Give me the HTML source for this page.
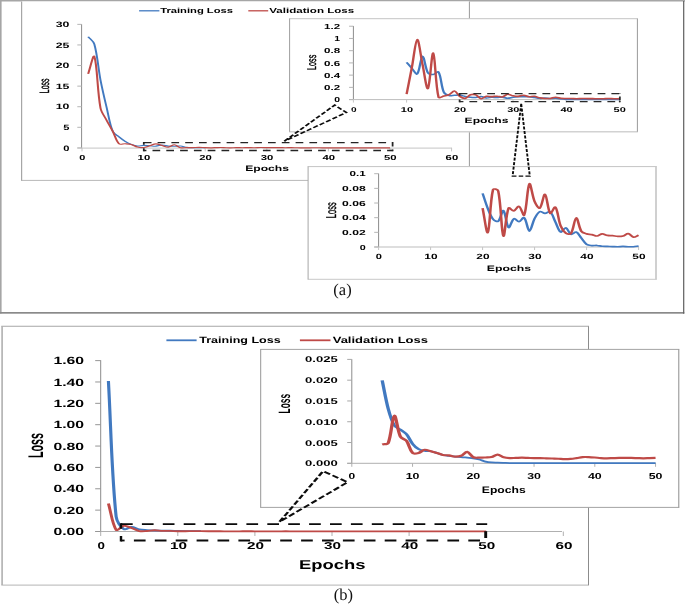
<!DOCTYPE html>
<html><head><meta charset="utf-8"><title>Loss curves</title>
<style>html,body{margin:0;padding:0;background:#fff}svg{display:block}</style></head>
<body>
<svg width="685" height="605" viewBox="0 0 685 605" font-family="'Liberation Sans', sans-serif" shape-rendering="auto" text-rendering="geometricPrecision">
<rect x="0" y="0" width="685" height="605" fill="#fff"/>
<rect x="0" y="0" width="685" height="1.5" fill="#a6a6a6"/>
<rect x="0" y="0" width="1.6" height="313.5" fill="#a6a6a6"/>
<rect x="0" y="312" width="684.3" height="1.7" fill="#8a8a8a"/>
<rect x="683.1" y="1" width="1.2" height="312.7" fill="#5f5f5f"/>
<rect x="21.60" y="1.50" width="447.80" height="178.90" fill="#fff"/>
<line x1="21.00" y1="180.40" x2="469.90" y2="180.40" stroke="#b8b8b8" stroke-width="1"/>
<line x1="21.60" y1="1.50" x2="21.60" y2="180.40" stroke="#a6a6a6" stroke-width="1.2"/>
<line x1="469.40" y1="1.50" x2="469.40" y2="180.40" stroke="#9a9a9a" stroke-width="1"/>
<line x1="81.60" y1="24.20" x2="81.60" y2="148.40" stroke="#8c8c8c" stroke-width="1" />
<line x1="77.30" y1="148.10" x2="452.00" y2="148.10" stroke="#c4c4c4" stroke-width="1" />
<line x1="77.30" y1="147.90" x2="81.60" y2="147.90" stroke="#b5b5b5" stroke-width="1" />
<line x1="77.30" y1="127.31" x2="81.60" y2="127.31" stroke="#b5b5b5" stroke-width="1" />
<line x1="77.30" y1="106.72" x2="81.60" y2="106.72" stroke="#b5b5b5" stroke-width="1" />
<line x1="77.30" y1="86.13" x2="81.60" y2="86.13" stroke="#b5b5b5" stroke-width="1" />
<line x1="77.30" y1="65.54" x2="81.60" y2="65.54" stroke="#b5b5b5" stroke-width="1" />
<line x1="77.30" y1="44.95" x2="81.60" y2="44.95" stroke="#b5b5b5" stroke-width="1" />
<line x1="77.30" y1="24.36" x2="81.60" y2="24.36" stroke="#b5b5b5" stroke-width="1" />
<line x1="82.00" y1="147.90" x2="82.00" y2="151.40" stroke="#c4c4c4" stroke-width="1" />
<line x1="143.60" y1="147.90" x2="143.60" y2="151.40" stroke="#c4c4c4" stroke-width="1" />
<line x1="205.20" y1="147.90" x2="205.20" y2="151.40" stroke="#c4c4c4" stroke-width="1" />
<line x1="266.80" y1="147.90" x2="266.80" y2="151.40" stroke="#c4c4c4" stroke-width="1" />
<line x1="328.40" y1="147.90" x2="328.40" y2="151.40" stroke="#c4c4c4" stroke-width="1" />
<line x1="390.00" y1="147.90" x2="390.00" y2="151.40" stroke="#c4c4c4" stroke-width="1" />
<line x1="451.60" y1="147.90" x2="451.60" y2="151.40" stroke="#c4c4c4" stroke-width="1" />
<text x="63.20" y="150.50" font-size="7.82" font-weight="bold" textLength="6.20" lengthAdjust="spacingAndGlyphs" fill="#000">0</text>
<text x="63.20" y="129.91" font-size="7.82" font-weight="bold" textLength="6.20" lengthAdjust="spacingAndGlyphs" fill="#000">5</text>
<text x="55.70" y="109.32" font-size="7.82" font-weight="bold" textLength="13.70" lengthAdjust="spacingAndGlyphs" fill="#000">10</text>
<text x="55.70" y="88.73" font-size="7.82" font-weight="bold" textLength="13.70" lengthAdjust="spacingAndGlyphs" fill="#000">15</text>
<text x="55.70" y="68.14" font-size="7.82" font-weight="bold" textLength="13.70" lengthAdjust="spacingAndGlyphs" fill="#000">20</text>
<text x="55.70" y="47.55" font-size="7.82" font-weight="bold" textLength="13.70" lengthAdjust="spacingAndGlyphs" fill="#000">25</text>
<text x="55.70" y="26.96" font-size="7.82" font-weight="bold" textLength="13.70" lengthAdjust="spacingAndGlyphs" fill="#000">30</text>
<text x="79.25" y="160.00" font-size="7.26" font-weight="bold" textLength="6.10" lengthAdjust="spacingAndGlyphs" fill="#000">0</text>
<text x="137.60" y="160.00" font-size="7.26" font-weight="bold" textLength="12.60" lengthAdjust="spacingAndGlyphs" fill="#000">10</text>
<text x="199.20" y="160.00" font-size="7.26" font-weight="bold" textLength="12.60" lengthAdjust="spacingAndGlyphs" fill="#000">20</text>
<text x="260.80" y="160.00" font-size="7.26" font-weight="bold" textLength="12.60" lengthAdjust="spacingAndGlyphs" fill="#000">30</text>
<text x="322.40" y="160.00" font-size="7.26" font-weight="bold" textLength="12.60" lengthAdjust="spacingAndGlyphs" fill="#000">40</text>
<text x="384.00" y="160.00" font-size="7.26" font-weight="bold" textLength="12.60" lengthAdjust="spacingAndGlyphs" fill="#000">50</text>
<text x="445.60" y="160.00" font-size="7.26" font-weight="bold" textLength="12.60" lengthAdjust="spacingAndGlyphs" fill="#000">60</text>
<text x="245.20" y="171.40" font-size="7.96" font-weight="bold" textLength="43.80" lengthAdjust="spacingAndGlyphs" fill="#000">Epochs</text>
<text transform="translate(48.80,93.20) rotate(-90)" font-size="13.55" font-weight="normal" textLength="14.60" lengthAdjust="spacingAndGlyphs" stroke="#000" stroke-width="0.4">Loss</text>
<line x1="139.10" y1="10.80" x2="159.40" y2="10.80" stroke="#4179c0" stroke-width="1.3" />
<text x="160.20" y="13.30" font-size="7.40" font-weight="bold" textLength="72.80" lengthAdjust="spacingAndGlyphs" fill="#000">Training Loss</text>
<line x1="248.30" y1="10.80" x2="268.20" y2="10.80" stroke="#bf4a47" stroke-width="1.3" />
<text x="269.30" y="13.30" font-size="7.40" font-weight="bold" textLength="84.90" lengthAdjust="spacingAndGlyphs" fill="#000">Validation Loss</text>
<path transform="scale(1.8,1)" d="M48.978,36.71 C50.117,39.18 51.922,41.11 52.400,44.13 C54.206,55.52 54.539,68.06 55.822,79.95 C56.822,89.20 58.028,98.38 59.244,107.54 C60.306,115.54 60.950,124.11 62.667,131.43 C63.233,133.85 64.911,135.08 66.089,136.78 C67.194,138.37 68.311,139.98 69.511,141.31 C70.594,142.51 71.750,143.58 72.933,144.40 C74.028,145.16 75.200,145.88 76.356,146.05 C77.478,146.21 78.633,145.43 79.778,145.39 C80.917,145.35 82.061,145.67 83.200,145.80 C84.339,145.93 85.489,146.31 86.622,146.17 C87.772,146.03 88.900,144.99 90.044,144.98 C91.183,144.96 92.317,145.88 93.467,146.09 C94.600,146.29 95.750,146.22 96.889,146.21 C98.028,146.20 99.183,145.85 100.311,146.05 C101.467,146.25 102.578,147.14 103.733,147.41 C104.861,147.67 106.017,147.60 107.156,147.63 C108.294,147.67 109.439,147.62 110.578,147.61 C111.717,147.61 112.861,147.60 114.000,147.60" fill="none" stroke="#4179c0" stroke-width="1.1" stroke-linejoin="round" stroke-linecap="butt"/>
<path transform="scale(1.8,1)" d="M48.978,73.78 C50.117,68.01 51.806,53.50 52.400,56.48 C54.083,64.89 54.022,91.15 55.822,107.96 C56.300,112.43 58.056,116.24 59.244,120.31 C60.339,124.06 61.572,127.68 62.667,131.43 C63.856,135.50 64.511,140.93 66.089,143.78 C66.794,145.05 68.372,143.68 69.511,143.78 C70.656,143.89 71.839,143.87 72.933,144.40 C74.122,144.97 75.167,146.53 76.356,147.08 C77.450,147.58 78.661,147.76 79.778,147.54 C80.939,147.31 82.061,146.33 83.200,145.72 C84.339,145.10 85.478,143.89 86.622,143.86 C87.761,143.84 88.900,145.00 90.044,145.55 C91.183,146.10 92.344,147.29 93.467,147.16 C94.628,147.03 95.767,144.68 96.889,144.77 C98.050,144.87 99.111,147.23 100.311,147.74 C101.394,148.19 102.594,147.69 103.733,147.67 C104.872,147.64 106.017,147.63 107.156,147.57 C108.294,147.51 109.439,147.31 110.578,147.32 C111.717,147.34 112.861,147.60 114.000,147.68 C115.139,147.76 116.283,147.84 117.422,147.82 C118.561,147.80 119.706,147.62 120.844,147.58 C121.983,147.54 123.128,147.54 124.267,147.58 C125.406,147.63 126.550,147.82 127.689,147.84 C128.828,147.85 129.972,147.70 131.111,147.68 C132.250,147.66 133.394,147.70 134.533,147.70 C135.672,147.70 136.817,147.67 137.956,147.67 C139.094,147.68 140.239,147.74 141.378,147.72 C142.517,147.70 143.661,147.56 144.800,147.55 C145.939,147.53 147.083,147.62 148.222,147.64 C149.361,147.67 150.506,147.69 151.644,147.68 C152.783,147.67 153.928,147.60 155.067,147.60 C156.206,147.61 157.350,147.70 158.489,147.71 C159.628,147.72 160.772,147.66 161.911,147.68 C163.050,147.69 164.194,147.76 165.333,147.78 C166.472,147.80 167.617,147.81 168.756,147.82 C169.894,147.83 171.039,147.84 172.178,147.82 C173.317,147.81 174.461,147.74 175.600,147.74 C176.739,147.74 177.883,147.80 179.022,147.81 C180.161,147.83 181.306,147.82 182.444,147.83 C183.583,147.83 184.728,147.83 185.867,147.83 C187.006,147.83 188.150,147.84 189.289,147.84 C190.428,147.84 191.572,147.83 192.711,147.83 C193.850,147.83 194.994,147.83 196.133,147.83 C197.272,147.84 198.417,147.84 199.556,147.84 C200.694,147.84 201.839,147.84 202.978,147.84 C204.117,147.84 205.261,147.84 206.400,147.84 C207.539,147.84 208.683,147.82 209.822,147.82 C210.961,147.83 212.106,147.84 213.244,147.84 C214.383,147.85 215.528,147.84 216.667,147.83" fill="none" stroke="#bf4a47" stroke-width="1.15" stroke-linejoin="round" stroke-linecap="butt"/>
<path d="M143.80,142.60 H392.60" fill="none" stroke="#242424" stroke-width="1.3" stroke-dasharray="7.7 6.1" stroke-dashoffset="0"/>
<path d="M143.80,150.50 H392.60" fill="none" stroke="#242424" stroke-width="1.3" stroke-dasharray="7.7 6.1" stroke-dashoffset="5.10"/>
<path d="M143.80,141.95 V144.80 M143.80,148.30 V151.15" fill="none" stroke="#242424" stroke-width="1.76"/>
<path d="M392.60,141.95 V146.60 M392.60,149.62 V151.15" fill="none" stroke="#242424" stroke-width="1.76"/>
<rect x="289.60" y="18.70" width="347.80" height="113.00" fill="#fff"/>
<line x1="289.10" y1="18.70" x2="637.90" y2="18.70" stroke="#c4c4c4" stroke-width="1"/>
<line x1="289.10" y1="131.70" x2="637.90" y2="131.70" stroke="#d2d2d2" stroke-width="1.4"/>
<line x1="289.60" y1="18.70" x2="289.60" y2="131.70" stroke="#9e9e9e" stroke-width="1"/>
<line x1="637.40" y1="18.70" x2="637.40" y2="131.70" stroke="#9a9a9a" stroke-width="1"/>
<line x1="353.40" y1="26.00" x2="353.40" y2="100.00" stroke="#8c8c8c" stroke-width="1" />
<line x1="349.10" y1="99.60" x2="619.50" y2="99.60" stroke="#bdbdbd" stroke-width="1" />
<line x1="349.10" y1="99.60" x2="353.40" y2="99.60" stroke="#b5b5b5" stroke-width="1" />
<line x1="349.10" y1="87.37" x2="353.40" y2="87.37" stroke="#b5b5b5" stroke-width="1" />
<line x1="349.10" y1="75.14" x2="353.40" y2="75.14" stroke="#b5b5b5" stroke-width="1" />
<line x1="349.10" y1="62.91" x2="353.40" y2="62.91" stroke="#b5b5b5" stroke-width="1" />
<line x1="349.10" y1="50.68" x2="353.40" y2="50.68" stroke="#b5b5b5" stroke-width="1" />
<line x1="349.10" y1="38.45" x2="353.40" y2="38.45" stroke="#b5b5b5" stroke-width="1" />
<line x1="349.10" y1="26.22" x2="353.40" y2="26.22" stroke="#b5b5b5" stroke-width="1" />
<line x1="353.40" y1="99.60" x2="353.40" y2="102.60" stroke="#c4c4c4" stroke-width="1" />
<line x1="406.60" y1="99.60" x2="406.60" y2="102.60" stroke="#c4c4c4" stroke-width="1" />
<line x1="459.80" y1="99.60" x2="459.80" y2="102.60" stroke="#c4c4c4" stroke-width="1" />
<line x1="513.00" y1="99.60" x2="513.00" y2="102.60" stroke="#c4c4c4" stroke-width="1" />
<line x1="566.20" y1="99.60" x2="566.20" y2="102.60" stroke="#c4c4c4" stroke-width="1" />
<line x1="619.40" y1="99.60" x2="619.40" y2="102.60" stroke="#c4c4c4" stroke-width="1" />
<text x="334.30" y="102.20" font-size="7.26" font-weight="bold" textLength="5.80" lengthAdjust="spacingAndGlyphs" fill="#000">0</text>
<text x="324.00" y="89.97" font-size="7.26" font-weight="bold" textLength="16.10" lengthAdjust="spacingAndGlyphs" fill="#000">0.2</text>
<text x="324.00" y="77.74" font-size="7.26" font-weight="bold" textLength="16.10" lengthAdjust="spacingAndGlyphs" fill="#000">0.4</text>
<text x="324.00" y="65.51" font-size="7.26" font-weight="bold" textLength="16.10" lengthAdjust="spacingAndGlyphs" fill="#000">0.6</text>
<text x="324.00" y="53.28" font-size="7.26" font-weight="bold" textLength="16.10" lengthAdjust="spacingAndGlyphs" fill="#000">0.8</text>
<text x="334.30" y="41.05" font-size="7.26" font-weight="bold" textLength="5.80" lengthAdjust="spacingAndGlyphs" fill="#000">1</text>
<text x="324.00" y="28.82" font-size="7.26" font-weight="bold" textLength="16.10" lengthAdjust="spacingAndGlyphs" fill="#000">1.2</text>
<text x="350.90" y="111.50" font-size="6.98" font-weight="bold" textLength="5.60" lengthAdjust="spacingAndGlyphs" fill="#000">0</text>
<text x="400.80" y="111.50" font-size="6.98" font-weight="bold" textLength="12.20" lengthAdjust="spacingAndGlyphs" fill="#000">10</text>
<text x="454.00" y="111.50" font-size="6.98" font-weight="bold" textLength="12.20" lengthAdjust="spacingAndGlyphs" fill="#000">20</text>
<text x="507.20" y="111.50" font-size="6.98" font-weight="bold" textLength="12.20" lengthAdjust="spacingAndGlyphs" fill="#000">30</text>
<text x="560.40" y="111.50" font-size="6.98" font-weight="bold" textLength="12.20" lengthAdjust="spacingAndGlyphs" fill="#000">40</text>
<text x="613.60" y="111.50" font-size="6.98" font-weight="bold" textLength="12.20" lengthAdjust="spacingAndGlyphs" fill="#000">50</text>
<text x="464.60" y="123.20" font-size="7.82" font-weight="bold" textLength="43.80" lengthAdjust="spacingAndGlyphs" fill="#000">Epochs</text>
<text transform="translate(316.40,69.90) rotate(-90)" font-size="12.71" font-weight="normal" textLength="15.20" lengthAdjust="spacingAndGlyphs" stroke="#000" stroke-width="0.4">Loss</text>
<path transform="scale(1.5,1)" d="M271.067,62.30 C272.247,64.34 273.400,66.42 274.613,68.41 C275.760,70.29 277.467,75.11 278.160,73.92 C279.833,71.03 280.487,56.39 281.707,56.18 C282.853,55.99 283.467,68.08 285.253,72.69 C285.833,74.19 287.640,74.63 288.800,74.53 C290.007,74.42 291.827,70.79 292.347,72.08 C294.193,76.70 294.080,86.23 295.893,92.26 C296.440,94.08 298.160,95.07 299.440,95.63 C300.527,96.09 301.807,95.40 302.987,95.32 C304.167,95.24 305.367,94.95 306.533,95.13 C307.733,95.31 308.887,96.03 310.080,96.39 C311.253,96.74 312.440,97.09 313.627,97.27 C314.800,97.45 316.000,97.56 317.173,97.45 C318.360,97.33 319.547,96.48 320.720,96.57 C321.913,96.66 323.067,97.87 324.267,97.98 C325.433,98.09 326.627,97.33 327.813,97.25 C328.993,97.16 330.180,97.50 331.360,97.48 C332.540,97.47 333.733,97.02 334.907,97.15 C336.100,97.29 337.267,98.26 338.453,98.27 C339.633,98.28 340.807,97.49 342.000,97.22 C343.173,96.95 344.360,96.72 345.547,96.65 C346.727,96.58 347.913,96.80 349.093,96.80 C350.273,96.80 351.467,96.54 352.640,96.66 C353.827,96.78 355.007,97.23 356.187,97.51 C357.367,97.79 358.547,98.26 359.733,98.35 C360.907,98.43 362.100,97.97 363.280,98.00 C364.467,98.03 365.640,98.48 366.827,98.54 C368.007,98.60 369.193,98.30 370.373,98.35 C371.560,98.41 372.740,98.69 373.920,98.86 C375.100,99.03 376.280,99.28 377.467,99.39 C378.647,99.49 379.833,99.47 381.013,99.48 C382.193,99.50 383.380,99.46 384.560,99.47 C385.740,99.48 386.927,99.53 388.107,99.54 C389.287,99.55 390.473,99.55 391.653,99.55 C392.833,99.56 394.020,99.56 395.200,99.56 C396.380,99.57 397.567,99.58 398.747,99.58 C399.927,99.57 401.113,99.55 402.293,99.55 C403.473,99.55 404.660,99.57 405.840,99.58 C407.020,99.58 408.207,99.58 409.387,99.58 C410.567,99.57 411.753,99.54 412.933,99.52" fill="none" stroke="#4179c0" stroke-width="1.55" stroke-linejoin="round" stroke-linecap="butt"/>
<path transform="scale(1.5,1)" d="M271.067,94.22 C272.247,85.21 273.440,76.20 274.613,67.19 C275.807,58.02 276.927,40.10 278.160,39.67 C279.287,39.28 280.493,56.40 281.707,64.74 C282.860,72.70 284.293,90.16 285.253,88.59 C286.660,86.29 287.740,51.85 288.800,53.13 C290.107,54.70 290.240,84.39 292.347,97.15 C292.607,98.71 294.720,96.52 295.893,96.11 C297.087,95.70 298.353,95.49 299.440,94.71 C300.720,93.79 301.893,90.79 302.987,91.04 C304.260,91.33 305.187,94.96 306.533,96.35 C307.553,97.41 308.967,98.63 310.080,98.39 C311.333,98.12 312.333,95.46 313.627,94.82 C314.700,94.30 316.113,94.34 317.173,94.92 C318.473,95.62 319.467,98.43 320.720,98.68 C321.833,98.91 323.033,96.72 324.267,96.35 C325.400,96.02 326.633,96.61 327.813,96.59 C328.993,96.57 330.180,96.15 331.360,96.21 C332.547,96.27 333.780,97.24 334.907,96.94 C336.147,96.61 337.227,94.53 338.453,94.33 C339.593,94.15 340.800,95.46 342.000,95.80 C343.167,96.13 344.373,96.45 345.547,96.35 C346.740,96.25 347.920,95.14 349.093,95.21 C350.287,95.28 351.433,96.61 352.640,96.79 C353.800,96.96 355.027,96.10 356.187,96.27 C357.393,96.45 358.533,97.46 359.733,97.83 C360.893,98.18 362.093,98.34 363.280,98.44 C364.460,98.55 365.660,98.68 366.827,98.47 C368.027,98.25 369.187,97.21 370.373,97.18 C371.553,97.15 372.727,98.08 373.920,98.30 C375.087,98.52 376.287,98.46 377.467,98.51 C378.647,98.55 379.833,98.54 381.013,98.57 C382.193,98.60 383.380,98.69 384.560,98.68 C385.740,98.67 386.927,98.51 388.107,98.51 C389.287,98.50 390.473,98.61 391.653,98.63 C392.833,98.66 394.020,98.64 395.200,98.66 C396.380,98.67 397.567,98.72 398.747,98.72 C399.927,98.72 401.113,98.72 402.293,98.68 C403.473,98.64 404.660,98.47 405.840,98.48 C407.020,98.50 408.207,98.75 409.387,98.77 C410.567,98.80 411.753,98.67 412.933,98.62" fill="none" stroke="#bf4a47" stroke-width="1.6" stroke-linejoin="round" stroke-linecap="butt"/>
<path d="M459.60,93.60 H619.80" fill="none" stroke="#2a2a2a" stroke-width="1.3" stroke-dasharray="7.8 6.0" stroke-dashoffset="0"/>
<path d="M459.60,101.70 H619.80" fill="none" stroke="#2a2a2a" stroke-width="1.3" stroke-dasharray="7.8 6.0" stroke-dashoffset="4.00"/>
<path d="M459.60,92.95 V95.80 M459.60,99.50 V102.35" fill="none" stroke="#2a2a2a" stroke-width="1.76"/>
<path d="M619.80,92.95 V93.60 M619.80,100.82 V102.35" fill="none" stroke="#2a2a2a" stroke-width="1.76"/>
<line x1="619.90" y1="96.60" x2="619.90" y2="100.30" stroke="#1a1a1a" stroke-width="1.6" />
<rect x="308.10" y="166.60" width="347.90" height="112.70" fill="#fff"/>
<line x1="307.60" y1="166.60" x2="656.85" y2="166.60" stroke="#c4c4c4" stroke-width="1"/>
<line x1="307.60" y1="279.30" x2="656.85" y2="279.30" stroke="#c8c8c8" stroke-width="1"/>
<line x1="308.10" y1="166.60" x2="308.10" y2="279.30" stroke="#a6a6a6" stroke-width="1"/>
<line x1="656.00" y1="166.60" x2="656.00" y2="279.30" stroke="#c8c8c8" stroke-width="1.7"/>
<line x1="378.60" y1="173.50" x2="378.60" y2="247.40" stroke="#8c8c8c" stroke-width="1" />
<line x1="374.20" y1="247.00" x2="639.00" y2="247.00" stroke="#bdbdbd" stroke-width="1" />
<line x1="374.20" y1="247.00" x2="378.60" y2="247.00" stroke="#b5b5b5" stroke-width="1" />
<line x1="374.20" y1="232.34" x2="378.60" y2="232.34" stroke="#b5b5b5" stroke-width="1" />
<line x1="374.20" y1="217.68" x2="378.60" y2="217.68" stroke="#b5b5b5" stroke-width="1" />
<line x1="374.20" y1="203.02" x2="378.60" y2="203.02" stroke="#b5b5b5" stroke-width="1" />
<line x1="374.20" y1="188.36" x2="378.60" y2="188.36" stroke="#b5b5b5" stroke-width="1" />
<line x1="374.20" y1="173.70" x2="378.60" y2="173.70" stroke="#b5b5b5" stroke-width="1" />
<line x1="378.60" y1="247.00" x2="378.60" y2="250.00" stroke="#c4c4c4" stroke-width="1" />
<line x1="430.60" y1="247.00" x2="430.60" y2="250.00" stroke="#c4c4c4" stroke-width="1" />
<line x1="482.60" y1="247.00" x2="482.60" y2="250.00" stroke="#c4c4c4" stroke-width="1" />
<line x1="534.60" y1="247.00" x2="534.60" y2="250.00" stroke="#c4c4c4" stroke-width="1" />
<line x1="586.60" y1="247.00" x2="586.60" y2="250.00" stroke="#c4c4c4" stroke-width="1" />
<line x1="638.60" y1="247.00" x2="638.60" y2="250.00" stroke="#c4c4c4" stroke-width="1" />
<text x="359.80" y="249.60" font-size="7.26" font-weight="bold" textLength="6.00" lengthAdjust="spacingAndGlyphs" fill="#000">0</text>
<text x="342.10" y="234.94" font-size="7.26" font-weight="bold" textLength="23.70" lengthAdjust="spacingAndGlyphs" fill="#000">0.02</text>
<text x="342.10" y="220.28" font-size="7.26" font-weight="bold" textLength="23.70" lengthAdjust="spacingAndGlyphs" fill="#000">0.04</text>
<text x="342.10" y="205.62" font-size="7.26" font-weight="bold" textLength="23.70" lengthAdjust="spacingAndGlyphs" fill="#000">0.06</text>
<text x="342.10" y="190.96" font-size="7.26" font-weight="bold" textLength="23.70" lengthAdjust="spacingAndGlyphs" fill="#000">0.08</text>
<text x="349.60" y="176.30" font-size="7.26" font-weight="bold" textLength="16.20" lengthAdjust="spacingAndGlyphs" fill="#000">0.1</text>
<text x="375.80" y="259.40" font-size="7.54" font-weight="bold" textLength="6.20" lengthAdjust="spacingAndGlyphs" fill="#000">0</text>
<text x="424.30" y="259.40" font-size="7.54" font-weight="bold" textLength="13.20" lengthAdjust="spacingAndGlyphs" fill="#000">10</text>
<text x="476.30" y="259.40" font-size="7.54" font-weight="bold" textLength="13.20" lengthAdjust="spacingAndGlyphs" fill="#000">20</text>
<text x="528.30" y="259.40" font-size="7.54" font-weight="bold" textLength="13.20" lengthAdjust="spacingAndGlyphs" fill="#000">30</text>
<text x="580.30" y="259.40" font-size="7.54" font-weight="bold" textLength="13.20" lengthAdjust="spacingAndGlyphs" fill="#000">40</text>
<text x="632.30" y="259.40" font-size="7.54" font-weight="bold" textLength="13.20" lengthAdjust="spacingAndGlyphs" fill="#000">50</text>
<text x="486.80" y="271.00" font-size="7.96" font-weight="bold" textLength="44.20" lengthAdjust="spacingAndGlyphs" fill="#000">Epochs</text>
<text transform="translate(336.00,218.20) rotate(-90)" font-size="14.25" font-weight="normal" textLength="15.90" lengthAdjust="spacingAndGlyphs" stroke="#000" stroke-width="0.4">Loss</text>
<path transform="scale(1.5,1)" d="M321.733,193.42 C322.887,198.45 323.867,203.59 325.200,208.52 C326.180,212.15 327.100,216.21 328.667,219.07 C329.413,220.44 331.387,222.11 332.133,221.20 C333.700,219.30 334.680,209.79 335.600,210.64 C336.987,211.92 337.600,225.86 339.067,227.58 C339.913,228.57 341.073,220.03 342.533,218.78 C343.380,218.05 344.900,221.81 346.000,221.64 C347.213,221.45 348.747,216.70 349.467,217.68 C351.053,219.85 351.747,230.97 352.933,231.09 C354.060,231.21 354.980,222.41 356.400,218.41 C357.287,215.91 358.460,212.61 359.867,211.60 C360.773,210.95 362.173,213.40 363.333,213.43 C364.487,213.45 366.053,210.83 366.800,211.74 C368.367,213.66 369.107,218.54 370.267,221.93 C371.413,225.28 372.280,230.74 373.733,231.97 C374.593,232.70 376.173,227.45 377.200,227.80 C378.487,228.23 379.293,233.48 380.667,234.32 C381.600,234.89 383.173,231.52 384.133,232.05 C385.487,232.79 386.453,236.09 387.600,238.13 C388.767,240.22 389.667,242.93 391.067,244.43 C391.980,245.42 393.367,245.43 394.533,245.61 C395.673,245.78 396.853,245.35 398.000,245.46 C399.160,245.57 400.307,246.11 401.467,246.27 C402.613,246.42 403.780,246.36 404.933,246.41 C406.087,246.46 407.247,246.51 408.400,246.56 C409.553,246.61 410.713,246.73 411.867,246.71 C413.020,246.68 414.180,246.41 415.333,246.41 C416.487,246.41 417.647,246.66 418.800,246.71 C419.953,246.76 421.113,246.82 422.267,246.71 C423.427,246.60 424.580,246.27 425.733,246.05" fill="none" stroke="#4179c0" stroke-width="1.65" stroke-linejoin="round" stroke-linecap="butt"/>
<path transform="scale(1.5,1)" d="M321.733,208.08 C322.887,216.21 324.353,234.73 325.200,232.49 C326.660,228.62 326.607,202.11 328.667,189.75 C328.920,188.23 331.893,189.24 332.133,190.85 C334.200,204.66 334.180,232.47 335.600,236.00 C336.487,238.21 337.153,214.99 339.067,208.08 C339.467,206.63 341.467,211.20 342.533,210.94 C343.773,210.63 345.067,205.83 346.000,206.39 C347.373,207.22 348.907,216.94 349.467,215.11 C351.220,209.41 351.473,186.69 352.933,183.82 C353.780,182.15 354.813,195.93 356.400,201.48 C357.127,204.01 359.027,208.94 359.867,208.08 C361.333,206.57 362.347,193.63 363.333,194.37 C364.653,195.36 365.160,210.27 366.800,213.28 C367.473,214.52 369.587,205.90 370.267,207.12 C371.900,210.06 372.160,219.83 373.733,225.74 C374.473,228.51 375.733,231.52 377.200,233.15 C378.047,234.08 380.107,234.66 380.667,233.44 C382.420,229.61 382.907,218.32 384.133,217.97 C385.220,217.66 385.947,227.66 387.600,231.46 C388.253,232.97 389.860,233.33 391.067,233.88 C392.173,234.38 393.393,234.26 394.533,234.61 C395.700,234.97 396.867,236.12 398.000,236.00 C399.180,235.88 400.293,233.98 401.467,233.88 C402.600,233.78 403.753,235.11 404.933,235.42 C406.067,235.72 407.247,235.54 408.400,235.71 C409.560,235.88 410.707,236.40 411.867,236.44 C413.020,236.49 414.233,236.46 415.333,236.00 C416.547,235.51 417.700,233.41 418.800,233.59 C420.007,233.78 421.033,236.81 422.267,237.10 C423.347,237.37 424.580,235.88 425.733,235.27" fill="none" stroke="#bf4a47" stroke-width="1.7" stroke-linejoin="round" stroke-linecap="butt"/>
<path transform="scale(1.5,1)" d="M189.533,141.20 L223.133,105.10 L230.867,112.50 Z" fill="none" stroke="#0c0c0c" stroke-width="1.45" stroke-dasharray="3.6 1.6" stroke-linejoin="miter"/>
<path transform="scale(1.5,1)" d="M347.467,103.80 L341.733,176.00 L353.200,176.00 Z" fill="none" stroke="#0c0c0c" stroke-width="1.25" stroke-dasharray="3.0 1.5" stroke-linejoin="miter"/>
<text x="342.5" y="295.4" font-family="'Liberation Serif', serif" font-size="16.5" text-anchor="middle" fill="#111">(a)</text>
<rect x="2.10" y="326.30" width="586.40" height="258.80" fill="#fff"/>
<line x1="1.30" y1="326.30" x2="589.00" y2="326.30" stroke="#a6a6a6" stroke-width="1.1"/>
<line x1="1.30" y1="585.10" x2="589.00" y2="585.10" stroke="#b4b4b4" stroke-width="1"/>
<line x1="2.10" y1="326.30" x2="2.10" y2="585.10" stroke="#b0b0b0" stroke-width="1.6"/>
<line x1="588.50" y1="326.30" x2="588.50" y2="585.10" stroke="#8c8c8c" stroke-width="1"/>
<line x1="100.70" y1="360.20" x2="100.70" y2="532.00" stroke="#8c8c8c" stroke-width="1" />
<line x1="95.20" y1="531.50" x2="562.00" y2="531.50" stroke="#b0b0b0" stroke-width="1" />
<line x1="95.20" y1="531.50" x2="100.70" y2="531.50" stroke="#969696" stroke-width="1" />
<line x1="95.20" y1="510.14" x2="100.70" y2="510.14" stroke="#969696" stroke-width="1" />
<line x1="95.20" y1="488.78" x2="100.70" y2="488.78" stroke="#969696" stroke-width="1" />
<line x1="95.20" y1="467.42" x2="100.70" y2="467.42" stroke="#969696" stroke-width="1" />
<line x1="95.20" y1="446.06" x2="100.70" y2="446.06" stroke="#969696" stroke-width="1" />
<line x1="95.20" y1="424.70" x2="100.70" y2="424.70" stroke="#969696" stroke-width="1" />
<line x1="95.20" y1="403.34" x2="100.70" y2="403.34" stroke="#969696" stroke-width="1" />
<line x1="95.20" y1="381.98" x2="100.70" y2="381.98" stroke="#969696" stroke-width="1" />
<line x1="95.20" y1="360.62" x2="100.70" y2="360.62" stroke="#969696" stroke-width="1" />
<line x1="100.70" y1="531.50" x2="100.70" y2="536.00" stroke="#b0b0b0" stroke-width="1" />
<line x1="177.80" y1="531.50" x2="177.80" y2="536.00" stroke="#b0b0b0" stroke-width="1" />
<line x1="254.90" y1="531.50" x2="254.90" y2="536.00" stroke="#b0b0b0" stroke-width="1" />
<line x1="332.00" y1="531.50" x2="332.00" y2="536.00" stroke="#b0b0b0" stroke-width="1" />
<line x1="409.10" y1="531.50" x2="409.10" y2="536.00" stroke="#b0b0b0" stroke-width="1" />
<line x1="486.20" y1="531.50" x2="486.20" y2="536.00" stroke="#b0b0b0" stroke-width="1" />
<line x1="563.30" y1="531.50" x2="563.30" y2="536.00" stroke="#b0b0b0" stroke-width="1" />
<text x="53.40" y="535.15" font-size="10.47" font-weight="bold" textLength="30.70" lengthAdjust="spacingAndGlyphs" fill="#000">0.00</text>
<text x="53.40" y="513.79" font-size="10.47" font-weight="bold" textLength="30.70" lengthAdjust="spacingAndGlyphs" fill="#000">0.20</text>
<text x="53.40" y="492.43" font-size="10.47" font-weight="bold" textLength="30.70" lengthAdjust="spacingAndGlyphs" fill="#000">0.40</text>
<text x="53.40" y="471.07" font-size="10.47" font-weight="bold" textLength="30.70" lengthAdjust="spacingAndGlyphs" fill="#000">0.60</text>
<text x="53.40" y="449.71" font-size="10.47" font-weight="bold" textLength="30.70" lengthAdjust="spacingAndGlyphs" fill="#000">0.80</text>
<text x="53.40" y="428.35" font-size="10.47" font-weight="bold" textLength="30.70" lengthAdjust="spacingAndGlyphs" fill="#000">1.00</text>
<text x="53.40" y="406.99" font-size="10.47" font-weight="bold" textLength="30.70" lengthAdjust="spacingAndGlyphs" fill="#000">1.20</text>
<text x="53.40" y="385.63" font-size="10.47" font-weight="bold" textLength="30.70" lengthAdjust="spacingAndGlyphs" fill="#000">1.40</text>
<text x="53.40" y="364.27" font-size="10.47" font-weight="bold" textLength="30.70" lengthAdjust="spacingAndGlyphs" fill="#000">1.60</text>
<text x="97.60" y="549.20" font-size="9.92" font-weight="bold" textLength="7.40" lengthAdjust="spacingAndGlyphs" fill="#000">0</text>
<text x="169.90" y="549.20" font-size="9.92" font-weight="bold" textLength="17.00" lengthAdjust="spacingAndGlyphs" fill="#000">10</text>
<text x="247.00" y="549.20" font-size="9.92" font-weight="bold" textLength="17.00" lengthAdjust="spacingAndGlyphs" fill="#000">20</text>
<text x="324.10" y="549.20" font-size="9.92" font-weight="bold" textLength="17.00" lengthAdjust="spacingAndGlyphs" fill="#000">30</text>
<text x="401.20" y="549.20" font-size="9.92" font-weight="bold" textLength="17.00" lengthAdjust="spacingAndGlyphs" fill="#000">40</text>
<text x="478.30" y="549.20" font-size="9.92" font-weight="bold" textLength="17.00" lengthAdjust="spacingAndGlyphs" fill="#000">50</text>
<text x="555.40" y="549.20" font-size="9.92" font-weight="bold" textLength="17.00" lengthAdjust="spacingAndGlyphs" fill="#000">60</text>
<text x="299.10" y="569.40" font-size="12.85" font-weight="bold" textLength="66.50" lengthAdjust="spacingAndGlyphs" fill="#000">Epochs</text>
<text transform="translate(43.00,458.10) rotate(-90)" font-size="21.23" font-weight="bold" textLength="25.10" lengthAdjust="spacingAndGlyphs">Loss</text>
<line x1="166.40" y1="340.30" x2="196.60" y2="340.30" stroke="#4179c0" stroke-width="1.8" />
<text x="199.30" y="343.20" font-size="8.94" font-weight="bold" textLength="81.40" lengthAdjust="spacingAndGlyphs" fill="#000">Training Loss</text>
<line x1="299.90" y1="340.30" x2="330.50" y2="340.30" stroke="#bf4a47" stroke-width="1.8" />
<text x="332.70" y="343.20" font-size="8.94" font-weight="bold" textLength="95.30" lengthAdjust="spacingAndGlyphs" fill="#000">Validation Loss</text>
<path transform="scale(1.7,1)" d="M63.771,380.91 C65.282,426.12 65.576,471.98 68.306,516.55 C68.600,521.39 70.882,526.89 72.841,529.15 C73.906,530.38 75.871,526.98 77.376,527.01 C78.894,527.05 80.371,528.84 81.912,529.37 C83.394,529.87 84.935,529.91 86.447,530.10 C87.959,530.29 89.471,530.44 90.982,530.53 C92.494,530.62 94.006,530.60 95.518,530.63 C97.029,530.67 98.541,530.69 100.053,530.75 C101.565,530.81 103.076,530.93 104.588,531.00 C106.100,531.06 107.612,531.11 109.124,531.14 C110.635,531.17 112.147,531.17 113.659,531.18 C115.171,531.19 116.682,531.19 118.194,531.19" fill="none" stroke="#4179c0" stroke-width="1.85" stroke-linejoin="round" stroke-linecap="butt"/>
<path transform="scale(1.6,1)" d="M67.756,503.52 C69.362,512.28 70.137,524.17 72.575,529.79 C73.350,531.58 75.725,526.05 77.394,525.73 C78.938,525.44 80.631,527.11 82.212,527.98 C83.844,528.87 85.369,530.50 87.031,531.02 C88.581,531.50 90.250,531.10 91.850,530.98 C93.462,530.85 95.062,530.31 96.669,530.28 C98.275,530.25 99.881,530.71 101.487,530.82 C103.094,530.92 104.700,530.85 106.306,530.92 C107.912,530.99 109.519,531.18 111.125,531.23 C112.731,531.28 114.337,531.25 115.944,531.23 C117.550,531.22 119.156,531.16 120.762,531.15 C122.369,531.15 123.975,531.18 125.581,531.19 C127.188,531.20 128.794,531.22 130.400,531.23 C132.006,531.25 133.612,531.28 135.219,531.29 C136.825,531.30 138.431,531.29 140.037,531.30 C141.644,531.30 143.250,531.33 144.856,531.33 C146.463,531.33 148.069,531.33 149.675,531.31 C151.281,531.29 152.887,531.20 154.494,531.21 C156.100,531.21 157.706,531.32 159.312,531.34 C160.919,531.37 162.525,531.35 164.131,531.36 C165.737,531.36 167.344,531.35 168.950,531.35 C170.556,531.35 172.162,531.35 173.769,531.34 C175.375,531.33 176.981,531.28 178.588,531.28 C180.194,531.28 181.800,531.33 183.406,531.34 C185.012,531.36 186.619,531.36 188.225,531.37 C189.831,531.37 191.438,531.36 193.044,531.36 C194.650,531.36 196.256,531.36 197.862,531.36 C199.469,531.36 201.075,531.36 202.681,531.36 C204.287,531.36 205.894,531.37 207.500,531.37 C209.106,531.37 210.712,531.37 212.319,531.37 C213.925,531.37 215.531,531.37 217.137,531.37 C218.744,531.37 220.350,531.38 221.956,531.38 C223.562,531.38 225.169,531.38 226.775,531.38 C228.381,531.39 229.988,531.39 231.594,531.39 C233.200,531.39 234.806,531.39 236.412,531.39 C238.019,531.38 239.625,531.37 241.231,531.37 C242.838,531.36 244.444,531.34 246.050,531.34 C247.656,531.34 249.262,531.34 250.869,531.34 C252.475,531.34 254.081,531.35 255.688,531.35 C257.294,531.35 258.900,531.36 260.506,531.37 C262.112,531.37 263.719,531.37 265.325,531.37 C266.931,531.37 268.538,531.37 270.144,531.37 C271.750,531.36 273.356,531.36 274.962,531.36 C276.569,531.36 278.175,531.36 279.781,531.36 C281.387,531.36 282.994,531.36 284.600,531.36 C286.206,531.36 287.812,531.36 289.419,531.37 C291.025,531.37 292.631,531.37 294.237,531.37 C295.844,531.37 297.450,531.37 299.056,531.37 C300.662,531.36 302.269,531.36 303.875,531.36" fill="none" stroke="#bf4a47" stroke-width="1.85" stroke-linejoin="round" stroke-linecap="butt"/>
<path d="M121.00,524.20 H487.20" fill="none" stroke="#0a0a0a" stroke-width="1.8" stroke-dasharray="11.7 9.2" stroke-dashoffset="0"/>
<path d="M133.90,540.50 H487.20" fill="none" stroke="#0a0a0a" stroke-width="1.8" stroke-dasharray="11.7 9.2"/>
<path d="M121.00,540.50 H124.60" fill="none" stroke="#0a0a0a" stroke-width="1.8"/>
<path d="M121.00,523.30 V528.80 M121.00,535.90 V541.40" fill="none" stroke="#0a0a0a" stroke-width="2.43"/>
<path d="M485.70,531.20 V538.00" fill="none" stroke="#0a0a0a" stroke-width="2.92"/>
<rect x="260.70" y="349.40" width="418.10" height="158.00" fill="#fff"/>
<line x1="260.20" y1="349.40" x2="679.30" y2="349.40" stroke="#a4a4a4" stroke-width="1"/>
<line x1="260.20" y1="507.40" x2="679.30" y2="507.40" stroke="#a4a4a4" stroke-width="1"/>
<line x1="260.70" y1="349.40" x2="260.70" y2="507.40" stroke="#979797" stroke-width="1"/>
<line x1="678.80" y1="349.40" x2="678.80" y2="507.40" stroke="#8c8c8c" stroke-width="1"/>
<line x1="351.80" y1="359.20" x2="351.80" y2="463.80" stroke="#8c8c8c" stroke-width="1" />
<line x1="347.20" y1="463.30" x2="656.00" y2="463.30" stroke="#b0b0b0" stroke-width="1" />
<line x1="347.20" y1="463.30" x2="351.80" y2="463.30" stroke="#a8a8a8" stroke-width="1" />
<line x1="347.20" y1="442.52" x2="351.80" y2="442.52" stroke="#a8a8a8" stroke-width="1" />
<line x1="347.20" y1="421.74" x2="351.80" y2="421.74" stroke="#a8a8a8" stroke-width="1" />
<line x1="347.20" y1="400.96" x2="351.80" y2="400.96" stroke="#a8a8a8" stroke-width="1" />
<line x1="347.20" y1="380.18" x2="351.80" y2="380.18" stroke="#a8a8a8" stroke-width="1" />
<line x1="347.20" y1="359.40" x2="351.80" y2="359.40" stroke="#a8a8a8" stroke-width="1" />
<line x1="351.80" y1="463.30" x2="351.80" y2="466.80" stroke="#b0b0b0" stroke-width="1" />
<line x1="412.55" y1="463.30" x2="412.55" y2="466.80" stroke="#b0b0b0" stroke-width="1" />
<line x1="473.30" y1="463.30" x2="473.30" y2="466.80" stroke="#b0b0b0" stroke-width="1" />
<line x1="534.05" y1="463.30" x2="534.05" y2="466.80" stroke="#b0b0b0" stroke-width="1" />
<line x1="594.80" y1="463.30" x2="594.80" y2="466.80" stroke="#b0b0b0" stroke-width="1" />
<line x1="655.55" y1="463.30" x2="655.55" y2="466.80" stroke="#b0b0b0" stroke-width="1" />
<text x="305.10" y="466.30" font-size="8.38" font-weight="bold" textLength="32.70" lengthAdjust="spacingAndGlyphs" fill="#000">0.000</text>
<text x="305.10" y="445.52" font-size="8.38" font-weight="bold" textLength="32.70" lengthAdjust="spacingAndGlyphs" fill="#000">0.005</text>
<text x="305.10" y="424.74" font-size="8.38" font-weight="bold" textLength="32.70" lengthAdjust="spacingAndGlyphs" fill="#000">0.010</text>
<text x="305.10" y="403.96" font-size="8.38" font-weight="bold" textLength="32.70" lengthAdjust="spacingAndGlyphs" fill="#000">0.015</text>
<text x="305.10" y="383.18" font-size="8.38" font-weight="bold" textLength="32.70" lengthAdjust="spacingAndGlyphs" fill="#000">0.020</text>
<text x="305.10" y="362.40" font-size="8.38" font-weight="bold" textLength="32.70" lengthAdjust="spacingAndGlyphs" fill="#000">0.025</text>
<text x="348.45" y="478.60" font-size="8.66" font-weight="bold" textLength="6.70" lengthAdjust="spacingAndGlyphs" fill="#000">0</text>
<text x="405.65" y="478.60" font-size="8.66" font-weight="bold" textLength="13.80" lengthAdjust="spacingAndGlyphs" fill="#000">10</text>
<text x="466.40" y="478.60" font-size="8.66" font-weight="bold" textLength="13.80" lengthAdjust="spacingAndGlyphs" fill="#000">20</text>
<text x="527.15" y="478.60" font-size="8.66" font-weight="bold" textLength="13.80" lengthAdjust="spacingAndGlyphs" fill="#000">30</text>
<text x="587.90" y="478.60" font-size="8.66" font-weight="bold" textLength="13.80" lengthAdjust="spacingAndGlyphs" fill="#000">40</text>
<text x="648.65" y="478.60" font-size="8.66" font-weight="bold" textLength="13.80" lengthAdjust="spacingAndGlyphs" fill="#000">50</text>
<text x="481.80" y="492.80" font-size="9.36" font-weight="bold" textLength="43.90" lengthAdjust="spacingAndGlyphs" fill="#000">Epochs</text>
<text transform="translate(290.00,413.40) rotate(-90)" font-size="16.48" font-weight="bold" textLength="19.50" lengthAdjust="spacingAndGlyphs">Loss</text>
<path transform="scale(1.85,1)" d="M206.584,380.35 C207.676,389.85 208.503,399.50 209.865,408.86 C210.692,414.54 211.600,420.59 213.146,425.48 C213.789,427.51 215.357,428.21 216.432,429.64 C217.546,431.11 218.838,432.32 219.719,434.21 C221.027,437.03 221.724,440.86 223.000,443.77 C223.914,445.85 225.049,447.84 226.281,449.17 C227.238,450.20 228.454,450.48 229.568,450.83 C230.643,451.17 231.773,450.91 232.854,451.25 C233.962,451.60 235.049,452.29 236.135,452.91 C237.238,453.54 238.297,454.49 239.422,454.99 C240.486,455.46 241.611,455.54 242.703,455.82 C243.800,456.10 244.886,456.44 245.989,456.65 C247.076,456.86 248.178,456.89 249.270,457.07 C250.368,457.24 251.459,457.48 252.557,457.69 C253.649,457.90 254.751,458.00 255.838,458.31 C256.941,458.63 258.049,459.02 259.124,459.56 C260.238,460.12 261.286,461.14 262.405,461.64 C263.476,462.11 264.589,462.29 265.686,462.47 C266.778,462.64 267.876,462.61 268.973,462.68 C270.065,462.75 271.162,462.82 272.259,462.88 C273.351,462.95 274.443,463.06 275.541,463.09 C276.632,463.13 277.730,463.09 278.827,463.09 C279.919,463.09 281.016,463.09 282.108,463.09 C283.200,463.09 284.297,463.09 285.395,463.09 C286.486,463.09 287.578,463.09 288.676,463.09 C289.768,463.09 290.865,463.09 291.957,463.09 C293.054,463.09 294.151,463.09 295.243,463.09 C296.341,463.09 297.432,463.09 298.524,463.09 C299.622,463.09 300.719,463.09 301.811,463.09 C302.908,463.09 304.000,463.09 305.092,463.09 C306.189,463.09 307.286,463.09 308.378,463.09 C309.470,463.09 310.568,463.09 311.665,463.09 C312.757,463.09 313.849,463.09 314.946,463.09 C316.038,463.09 317.135,463.09 318.232,463.09 C319.324,463.09 320.416,463.09 321.514,463.09 C322.605,463.09 323.703,463.09 324.800,463.09 C325.892,463.09 326.989,463.09 328.081,463.09 C329.178,463.09 330.270,463.09 331.368,463.09 C332.459,463.09 333.557,463.09 334.649,463.09 C335.741,463.09 336.838,463.09 337.930,463.09 C339.027,463.09 340.124,463.09 341.216,463.09 C342.308,463.09 343.405,463.09 344.503,463.09 C345.595,463.09 346.692,463.09 347.784,463.09 C348.881,463.09 349.973,463.09 351.070,463.09 C352.162,463.09 353.254,463.09 354.351,463.09" fill="none" stroke="#4179c0" stroke-width="1.8" stroke-linejoin="round" stroke-linecap="butt"/>
<path transform="scale(1.5,1)" d="M254.787,444.43 C256.133,443.93 258.340,444.69 258.833,442.94 C261.040,435.14 261.367,416.96 262.880,415.80 C264.067,414.88 264.913,430.46 266.933,436.70 C267.613,438.81 270.033,438.95 270.987,440.86 C272.733,444.35 273.173,450.14 275.033,452.91 C275.873,454.16 277.813,453.40 279.080,452.91 C280.513,452.36 281.720,450.08 283.133,449.79 C284.420,449.53 285.840,450.73 287.187,451.25 C288.540,451.77 289.893,452.29 291.233,452.91 C292.593,453.54 293.900,454.56 295.287,454.99 C296.600,455.39 297.993,455.13 299.333,455.40 C300.693,455.68 302.027,456.58 303.387,456.65 C304.727,456.72 306.193,456.55 307.433,455.82 C308.893,454.96 310.207,451.65 311.487,451.87 C312.907,452.12 313.993,456.13 315.533,457.23 C316.693,458.06 318.233,457.65 319.587,457.69 C320.933,457.73 322.287,457.59 323.633,457.48 C324.987,457.38 326.387,457.53 327.680,457.07 C329.087,456.56 330.387,454.54 331.733,454.57 C333.087,454.60 334.380,456.62 335.787,457.23 C337.080,457.80 338.480,457.99 339.833,458.11 C341.180,458.22 342.533,457.97 343.887,457.90 C345.233,457.83 346.587,457.69 347.933,457.69 C349.280,457.69 350.633,457.83 351.987,457.90 C353.333,457.97 354.680,458.07 356.033,458.11 C357.380,458.14 358.733,458.07 360.080,458.11 C361.433,458.14 362.787,458.24 364.133,458.31 C365.487,458.38 366.833,458.45 368.180,458.52 C369.533,458.59 370.887,458.62 372.233,458.73 C373.587,458.83 374.933,459.11 376.280,459.14 C377.633,459.18 378.987,459.11 380.333,458.94 C381.687,458.76 383.040,458.42 384.387,458.11 C385.740,457.79 387.073,457.24 388.433,457.07 C389.773,456.89 391.133,457.00 392.487,457.07 C393.833,457.14 395.187,457.31 396.533,457.48 C397.887,457.66 399.233,457.97 400.587,458.11 C401.933,458.24 403.287,458.31 404.633,458.31 C405.987,458.31 407.333,458.17 408.687,458.11 C410.033,458.04 411.380,457.93 412.733,457.90 C414.080,457.86 415.433,457.90 416.780,457.90 C418.133,457.90 419.487,457.86 420.833,457.90 C422.187,457.93 423.533,458.04 424.887,458.11 C426.233,458.17 427.587,458.31 428.933,458.31 C430.287,458.31 431.633,458.17 432.987,458.11 C434.333,458.04 435.680,457.97 437.033,457.90" fill="none" stroke="#bf4a47" stroke-width="2.2" stroke-linejoin="round" stroke-linecap="butt"/>
<path transform="scale(1.5,1)" d="M186.400,521.80 L215.400,471.10 L231.733,482.20 Z" fill="none" stroke="#0c0c0c" stroke-width="1.75" stroke-dasharray="4.6 2.0" stroke-linejoin="miter"/>
<text x="343.3" y="600.1" font-family="'Liberation Serif', serif" font-size="16.5" text-anchor="middle" fill="#111">(b)</text>
</svg>
</body></html>
